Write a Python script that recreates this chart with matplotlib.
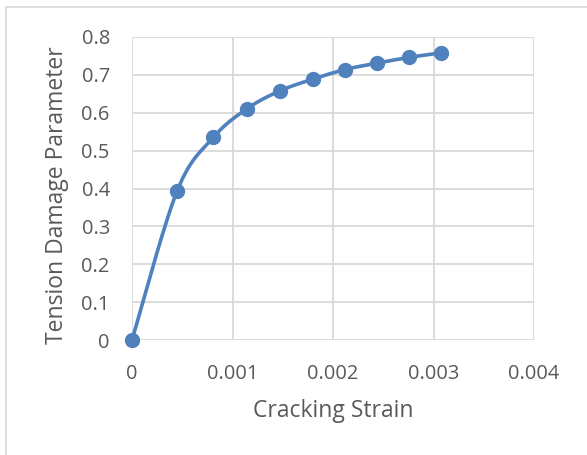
import numpy as np
import matplotlib
matplotlib.use("Agg")
import matplotlib.pyplot as plt
from matplotlib.patches import Rectangle

strain = [0.0, 0.000448, 0.000810, 0.001146, 0.001474, 0.001802, 0.002119, 0.002437, 0.002754, 0.003071]
damage = [0.0, 0.393, 0.535, 0.611, 0.658, 0.689, 0.714, 0.731, 0.746, 0.758]
xticks = [0, 0.001, 0.002, 0.003, 0.004]
xticklabels = ["0", "0.001", "0.002", "0.003", "0.004"]
yticks = [0, 0.1, 0.2, 0.3, 0.4, 0.5, 0.6, 0.7, 0.8]
yticklabels = ["0", "0.1", "0.2", "0.3", "0.4", "0.5", "0.6", "0.7", "0.8"]

plt.rcParams['font.family'] = ['Open Sans', 'DejaVu Sans']

W, H = 587, 455
fig = plt.figure(figsize=(W / 100, H / 100), dpi=100)
fig.patch.set_facecolor('white')

# chart area border
fig.patches.append(Rectangle((6 / W, -0.1), 1.2, 1 - 7 / H + 0.1, transform=fig.transFigure,
                             fill=False, edgecolor='#D9D9D9', linewidth=1.2))

x0, x1 = 132, 534
y0, y1 = 37, 340
ax = fig.add_axes([x0 / W, 1 - y1 / H, (x1 - x0) / W, (y1 - y0) / H])

ax.set_xlim(0, 0.004)
ax.set_ylim(0, 0.8)
ax.set_xticks(xticks)
ax.set_xticklabels(xticklabels)
ax.set_yticks(yticks)
ax.set_yticklabels(yticklabels)
ax.grid(True, color='#D9D9D9', linewidth=1.3)
ax.set_axisbelow(True)
for s in ax.spines.values():
    s.set_visible(False)
ax.tick_params(length=0, labelsize=14.4, colors='#595959')
ax.tick_params(axis='x', pad=17)
ax.tick_params(axis='y', pad=16)

# Catmull-Rom style smoothing computed in display-proportional coordinates
xs = np.array(strain) / 0.004 * (x1 - x0)
ys = np.array(damage) / 0.8 * (y1 - y0)
px, py = [], []
n = len(xs)
for i in range(n - 1):
    p0 = np.array([xs[max(i - 1, 0)], ys[max(i - 1, 0)]])
    p1 = np.array([xs[i], ys[i]])
    p2 = np.array([xs[i + 1], ys[i + 1]])
    p3 = np.array([xs[min(i + 2, n - 1)], ys[min(i + 2, n - 1)]])
    c1 = p1 + (p2 - p0) / 6
    c2 = p2 - (p3 - p1) / 6
    t = np.linspace(0, 1, 30)[:, None]
    seg = (1 - t) ** 3 * p1 + 3 * (1 - t) ** 2 * t * c1 + 3 * (1 - t) * t ** 2 * c2 + t ** 3 * p2
    px.extend(seg[:, 0]); py.extend(seg[:, 1])
px = np.array(px) / (x1 - x0) * 0.004
py = np.array(py) / (y1 - y0) * 0.8

color = '#4F81BD'
ax.plot(px, py, color=color, linewidth=2.6, clip_on=False, solid_capstyle='round')
ax.plot(strain, damage, linestyle='none', marker='o', markersize=10, color=color, clip_on=False)

ax.set_xlabel('Cracking Strain', fontsize=16.5, color='#595959', labelpad=11)
ax.set_ylabel('Tension Damage Parameter', fontsize=16.5, color='#595959', va='center')
ax.yaxis.set_label_coords((57 - x0) / (x1 - x0), (y1 - 195) / (y1 - y0))

fig.savefig('out.png', dpi=100)
